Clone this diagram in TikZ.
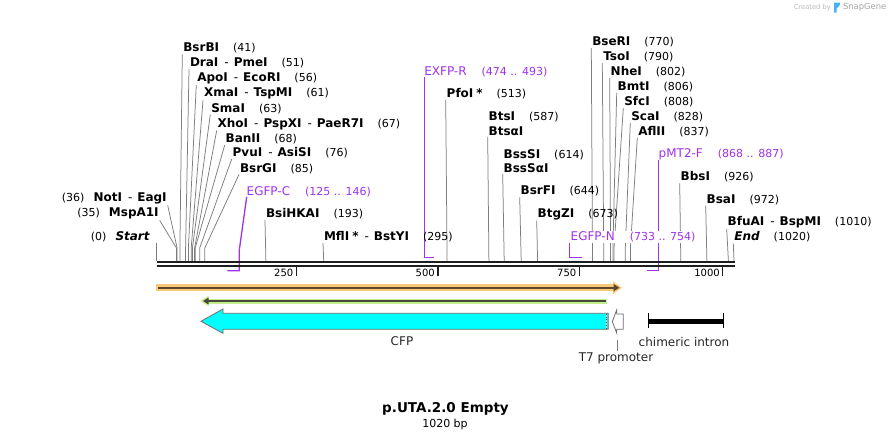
\documentclass[tikz,border=0pt]{standalone}
\usepackage{fontspec}
\setmainfont{DejaVu Sans}
\usepackage{tikz}
\usetikzlibrary{arrows.meta,backgrounds,calc}
\definecolor{primerpurple}{RGB}{160,50,235}
\definecolor{cutgray}{RGB}{125,125,125}
\definecolor{rulerblack}{RGB}{30,30,30}
\definecolor{featorange}{RGB}{250,200,120}
\definecolor{featbrown}{RGB}{90,72,40}
\definecolor{featgreen}{RGB}{195,240,140}
\definecolor{featdark}{RGB}{70,72,60}
\definecolor{cfpcyan}{RGB}{0,255,255}
\definecolor{outlinegray}{RGB}{110,110,110}
\definecolor{snapblue}{RGB}{70,180,240}
\newcommand{\cutpos}[1]{{\fontsize{11}{13}\selectfont(#1)}}
\newcommand{\sitegap}{\hspace{14pt}}
\newcommand{\enzdash}{\hspace{6pt}-\hspace{5pt}}

\begin{document}
\begin{tikzpicture}[x=1pt, y=-1pt,
  site/.style={inner sep=1pt, outer sep=0pt, anchor=west, align=left,
               font=\fontsize{12}{14.6}\selectfont},
  siteleft/.style={site, anchor=east, align=right},
  primerlbl/.style={inner sep=0pt, outer sep=0pt, anchor=west, text=primerpurple,
                    font=\fontsize{12}{14}\selectfont},
  cutline/.style={draw=cutgray, line width=0.75pt},
  primerline/.style={draw=primerpurple, line width=1.3pt},
  ruler/.style={draw=rulerblack, line width=2.2pt},
  tickmark/.style={draw=rulerblack, line width=1.5pt},
  ticklbl/.style={inner sep=0pt, anchor=east, font=\fontsize{10}{12}\selectfont},
  featlbl/.style={inner sep=1pt, text=black!85, font=\fontsize{12}{14}\selectfont}
]
\useasboundingbox (0,0) rectangle (891,440);

% Ruler: double line, ticks every 250 bp
\coordinate (a0) at (156.7,262.2);
\coordinate (aend) at (735,262.2);
\draw[ruler] (a0) -- (aend);
\draw[ruler] ([yshift=-4pt]a0) -- ([yshift=-4pt]aend);
\draw[tickmark] (296.7,267.3) -- (296.7,276);
\draw[tickmark] (438,267.3) -- (438,276);
\draw[tickmark] (579.3,267.3) -- (579.3,276);
\draw[tickmark] (722.7,267.3) -- (722.7,276);
\node[ticklbl] (l250) at (293.5,273.3) {250};
\node[ticklbl] (l500) at (435,273.3) {500};
\node[ticklbl] (l750) at (576.5,273.3) {750};
\node[ticklbl] (l1000) at (720,273.3) {1000};

% Cut sites on the ruler
\coordinate (s0) at (156.7,261);
\coordinate (s35) at (176.5,261);
\coordinate (s36) at (177.1,261);
\coordinate (s41) at (179.9,261);
\coordinate (s51) at (185.6,261);
\coordinate (s56) at (188.4,261);
\coordinate (s61) at (191.2,261);
\coordinate (s63) at (192.4,261);
\coordinate (s67) at (194.6,261);
\coordinate (s68) at (195.2,261);
\coordinate (s76) at (199.7,261);
\coordinate (s85) at (204.8,261);
\coordinate (s193) at (265.9,261);
\coordinate (s295) at (323.7,261);
\coordinate (s513) at (447.1,261);
\coordinate (s587) at (488.9,261);
\coordinate (s614) at (504.2,261);
\coordinate (s644) at (521.2,261);
\coordinate (s673) at (537.6,261);
\coordinate (s770) at (592.5,261);
\coordinate (s790) at (603.8,261);
\coordinate (s802) at (610.6,261);
\coordinate (s806) at (612.9,261);
\coordinate (s808) at (614.0,261);
\coordinate (s828) at (625.3,261);
\coordinate (s837) at (630.4,261);
\coordinate (s926) at (680.8,261);
\coordinate (s972) at (706.9,261);
\coordinate (s1010) at (728.4,261);
\coordinate (s1020) at (734.0,261);

% Enzyme labels, left cluster
\node[siteleft] (startlbl) at (151,236.7) {\cutpos{0}\hspace{9pt}\textbf{\textit{Start}}};
\node[siteleft] (mspa) at (159.7,213.8) {\cutpos{35}\hspace{9pt}\textbf{MspA1I}};
\node[siteleft] (noti) at (167.7,198.7) {\cutpos{36}\hspace{9pt}\textbf{NotI}\enzdash\textbf{EagI}};
\node[site] (bsrbi) at (182.3,48.3) {\textbf{BsrBI}\sitegap\cutpos{41}};
\node[site] (drai) at (189,63.3) {\textbf{DraI}\enzdash\textbf{PmeI}\sitegap\cutpos{51}};
\node[site] (apoi) at (196.3,78.3) {\textbf{ApoI}\enzdash\textbf{EcoRI}\sitegap\cutpos{56}};
\node[site] (xmai) at (203,93.7) {\textbf{XmaI}\enzdash\textbf{TspMI}\sitegap\cutpos{61}};
\node[site] (smai) at (210.3,108.3) {\textbf{SmaI}\sitegap\cutpos{63}};
\node[site] (xhoi) at (216.7,123.7) {\textbf{XhoI}\enzdash\textbf{PspXI}\enzdash\textbf{PaeR7I}\sitegap\cutpos{67}};
\node[site] (banii) at (224.7,139) {\textbf{BanII}\sitegap\cutpos{68}};
\node[site] (pvui) at (231.7,152.8) {\textbf{PvuI}\enzdash\textbf{AsiSI}\sitegap\cutpos{76}};
\node[site] (bsrgi) at (239,168.3) {\textbf{BsrGI}\sitegap\cutpos{85}};
\node[site] (bsihkai) at (265,213.8) {\textbf{BsiHKAI}\sitegap\cutpos{193}};
\node[site] (mfli) at (323,236.7) {\textbf{MflI\hspace{3pt}*}\enzdash\textbf{BstYI}\sitegap\cutpos{295}};

% Enzyme labels, middle
\node[site] (pfoi) at (445.7,93.3) {\textbf{PfoI\hspace{3pt}*}\sitegap\cutpos{513}};
\node[site] (btsi) at (487.7,124) {\textbf{BtsI}\sitegap\cutpos{587}\\\textbf{BtsαI}};
\node[site] (bsssi) at (502.7,161.3) {\textbf{BssSI}\sitegap\cutpos{614}\\\textbf{BssSαI}};
\node[site] (bsrfi) at (519.7,191.3) {\textbf{BsrFI}\sitegap\cutpos{644}};
\node[site] (btgzi) at (536.7,214) {\textbf{BtgZI}\sitegap\cutpos{673}};

% Enzyme labels, right cluster
\node[site] (bseri) at (591.3,41.7) {\textbf{BseRI}\sitegap\cutpos{770}};
\node[site] (tsoi) at (602.3,56.7) {\textbf{TsoI}\sitegap\cutpos{790}};
\node[site] (nhei) at (609.7,71.7) {\textbf{NheI}\sitegap\cutpos{802}};
\node[site] (bmti) at (616.7,87) {\textbf{BmtI}\sitegap\cutpos{806}};
\node[site] (sfci) at (623.3,101.7) {\textbf{SfcI}\sitegap\cutpos{808}};
\node[site] (scai) at (630.3,116.7) {\textbf{ScaI}\sitegap\cutpos{828}};
\node[site] (aflii) at (637.3,131.3) {\textbf{AflII}\sitegap\cutpos{837}};
\node[site] (bbsi) at (679.7,177) {\textbf{BbsI}\sitegap\cutpos{926}};
\node[site] (bsai) at (705.7,199.5) {\textbf{BsaI}\sitegap\cutpos{972}};
\node[site] (bfuai) at (726.7,222) {\textbf{BfuAI}\enzdash\textbf{BspMI}\sitegap\cutpos{1010}};
\node[site] (endlbl) at (733.3,237) {\textbf{\textit{End}}\sitegap\cutpos{1020}};

% Primers
\coordinate (p125) at (227.3,270.7);
\coordinate (p146) at (239.3,270.7);
\coordinate (p493) at (434,257.3);
\coordinate (p754) at (582,257.3);
\coordinate (p868) at (647,270.7);
\node[primerlbl] (egfpc) at (246.7,191.7) {EGFP-C\hspace{15pt}\cutpos{125 .. 146}};
\node[primerlbl] (exfpr) at (424.3,71.7) {EXFP-R\hspace{15pt}\cutpos{474 .. 493}};
\node[primerlbl, fill=white, inner sep=1pt] (egfpn) at (569.7,236.7) {EGFP-N\hspace{15pt}\cutpos{733 .. 754}};
\node[primerlbl] (pmt2f) at (658.7,154.7) {pMT2-F\hspace{15pt}\cutpos{868 .. 887}};

\begin{scope}[on background layer]
\fill[white] (0,0) rectangle (891,440);
\draw[cutline] (startlbl.south east -| s0) -- (s0);
\draw[cutline] (mspa.south east) -- ([yshift=13pt]s35) -- (s35);
\draw[cutline] (noti.south east) -- ([yshift=13pt]s36) -- (s36);
\draw[cutline] (bsrbi.south west) -- ([yshift=13pt]s41) -- (s41);
\draw[cutline] (drai.south west) -- ([yshift=13pt]s51) -- (s51);
\draw[cutline] (apoi.south west) -- ([yshift=13pt]s56) -- (s56);
\draw[cutline] (xmai.south west) -- ([yshift=13pt]s61) -- (s61);
\draw[cutline] (smai.south west) -- ([yshift=13pt]s63) -- (s63);
\draw[cutline] (xhoi.south west) -- ([yshift=13pt]s67) -- (s67);
\draw[cutline] (banii.south west) -- ([yshift=13pt]s68) -- (s68);
\draw[cutline] (pvui.south west) -- ([yshift=13pt]s76) -- (s76);
\draw[cutline] (bsrgi.south west) -- ([yshift=13pt]s85) -- (s85);
\draw[cutline] (bsihkai.south west) -- (s193);
\draw[cutline] (mfli.south west) -- (s295);
\draw[cutline] (pfoi.south west) -- (s513);
\draw[cutline] (btsi.south west) -- (s587);
\draw[cutline] (bsssi.south west) -- (s614);
\draw[cutline] (bsrfi.south west) -- (s644);
\draw[cutline] (btgzi.south west) -- (s673);
\draw[cutline] (bseri.south west) -- (s770);
\draw[cutline] (tsoi.south west) -- (s790);
\draw[cutline] (nhei.south west) -- (s802);
\draw[cutline] (bmti.south west) -- ([yshift=13pt]s806) -- (s806);
\draw[cutline] (sfci.south west) -- ([yshift=13pt]s808) -- (s808);
\draw[cutline] (scai.south west) -- ([yshift=13pt]s828) -- (s828);
\draw[cutline] (aflii.south west) -- ([yshift=13pt]s837) -- (s837);
\draw[cutline] (bbsi.south west) -- (s926);
\draw[cutline] (bsai.south west) -- (s972);
\draw[cutline] (bfuai.south west) -- (s1010);
\draw[cutline] (endlbl.south west) -- (s1020);
\draw[primerline] (egfpc.south west) -- ([yshift=20.7pt]p146) -- (p146) -- (p125);
\draw[primerline] (exfpr.south west) |- (p493);
\draw[primerline] (egfpn.south west) |- (p754);
\draw[primerline] (pmt2f.south west) |- (p868);
\end{scope}

% Features
\draw[line width=6.5pt, featorange, -{Triangle[length=9pt,width=12pt]}] (156,287.7) -- (622,287.7);
\draw[line width=1.8pt, featbrown, -{Triangle[length=6pt,width=7pt]}] (158,287.7) -- (619.5,287.7);
\draw[line width=5pt, featgreen, -{Triangle[length=8pt,width=10pt]}] (607,301) -- (200.5,301);
\draw[line width=1.6pt, featdark, -{Triangle[length=5.5pt,width=6.5pt]}] (605.5,301) -- (203,301);
\draw[fill=cfpcyan, draw=outlinegray, line width=0.8pt, line join=miter]
  (608.3,313.3) -- (223,313.3) -- (223,309) -- (201,321.3) -- (223,333.3)
  -- (223,329.3) -- (608.3,329.3) -- cycle;
\draw[white, line width=1pt] (606.5,313.8) -- (606.5,328.8);
\draw[black!80, line width=0.8pt, dotted] (606.5,313.8) -- (606.5,328.8);
\draw[fill=white, draw=outlinegray, line width=0.8pt]
  (623.3,314) -- (616.7,314) -- (616.7,310) -- (612.3,321.5) -- (616.7,333)
  -- (616.7,329.3) -- (623.3,329.3) -- cycle;
\draw[line width=4.5pt, black] (648.3,321.7) -- (723.3,321.7);
\draw[line width=1.4pt, black] (648.3,313) -- (648.3,328);
\draw[line width=1.4pt, black] (723.3,313) -- (723.3,328);

% Feature labels
\node[featlbl] (cfplbl) at (402,341.5) {CFP};
\coordinate (t7stem) at (617.3,340);
\node[featlbl] (t7lbl) at (616,358.3) {T7 promoter};
\draw[cutline] (t7stem) -- (t7stem |- t7lbl.north);
\node[featlbl] (intronlbl) at (684,342.5) {chimeric intron};

% Title
\node[inner sep=0pt, font=\bfseries\fontsize{13.5}{16}\selectfont] (title) at (445.5,409.4) {p.UTA.2.0 Empty};
\node[inner sep=0pt, font=\fontsize{11}{13}\selectfont] (bplbl) at (445,424.4) {1020 bp};

% Created by SnapGene
\node[inner sep=0pt, anchor=east, text=gray!55, font=\fontsize{6.7}{8}\selectfont] (created) at (831,7.3) {Created by};
\fill[snapblue] (834,2.5) -- (840,2.5) .. controls (840.5,6.5) and (837.5,6.5) .. (836.6,8.5) -- (836.6,12.5) -- (834,12.5) -- cycle;
\node[inner sep=0pt, anchor=west, text=gray!70, font=\fontsize{8.4}{10}\selectfont] (snapgene) at (842.8,7.3) {SnapGene};
\end{tikzpicture}
\end{document}
